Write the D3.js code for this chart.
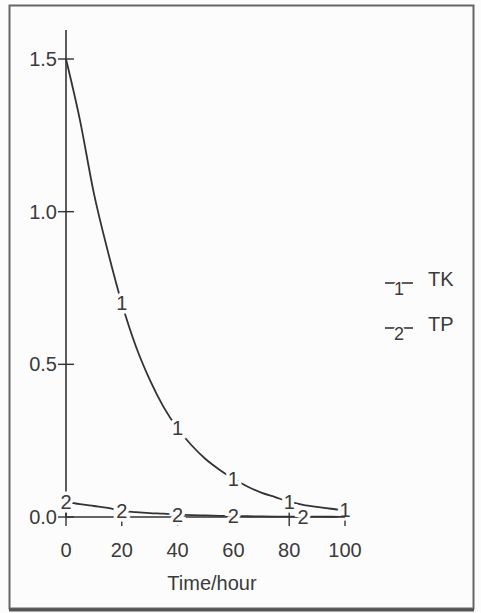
<!DOCTYPE html>
<html>
<head>
<meta charset="utf-8">
<script src="https://cdn.jsdelivr.net/npm/d3@7"></script>
<style>
  body { margin: 0; background: #fcfcfc; }
  text { font-family: "Liberation Sans", Arial, sans-serif; fill: #3a3a3a; }
</style>
</head>
<body>
<div id="chart"></div>
<script>
// time in hours
var hours = [0, 5, 10, 15, 20, 25, 30, 35, 40, 45, 50, 55, 60, 65, 70, 75, 80, 85, 90, 95, 100];
var tk = [1.50, 1.30, 1.06, 0.87, 0.70, 0.56, 0.45, 0.36, 0.29, 0.235, 0.19, 0.155, 0.125, 0.10, 0.08, 0.065, 0.05, 0.04, 0.033, 0.027, 0.022];
var tp = [0.05, 0.042, 0.036, 0.03, 0.02, 0.016, 0.013, 0.011, 0.008, 0.006, 0.005, 0.004, 0.003, 0.0025, 0.002, 0.0015, 0.001, 0.001, 0.001, 0.0008, 0.0005];
var seriesNames = ["TK", "TP"];
var labelHours = [[20, 40, 60, 80, 100], [0, 20, 40, 60, 85]];
var xTicks = [0, 20, 40, 60, 80, 100];
var yTicks = [0, 0.5, 1.0, 1.5];
var xTitle = "Time/hour";

function init() {
  var w = 481, h = 613;
  var svg = d3.select("#chart").append("svg")
      .attr("width", w)
      .attr("height", h);

  // outer frame
  svg.append("rect")
      .attr("x", 9.5).attr("y", 5.5)
      .attr("width", 464).attr("height", 603)
      .attr("fill", "none")
      .attr("stroke", "#666")
      .attr("stroke-width", 2);
  svg.append("line")
      .attr("x1", 9).attr("x2", 474)
      .attr("y1", 610).attr("y2", 610)
      .attr("stroke", "#555").attr("stroke-width", 3);

  var x = d3.scaleLinear().domain([0, 100]).range([66, 345]);
  var y = d3.scaleLinear().domain([0, 1.5]).range([517, 59]);

  var ink = "#333";

  // axes
  var g = svg.append("g");
  g.append("line")
      .attr("x1", x(0)).attr("x2", x(0))
      .attr("y1", y(0)).attr("y2", 30)
      .attr("stroke", ink).attr("stroke-width", 1.6);
  g.append("line")
      .attr("x1", x(0)).attr("x2", x(100))
      .attr("y1", y(0)).attr("y2", y(0))
      .attr("stroke", ink).attr("stroke-width", 1.6);

  // y ticks cross the axis
  g.selectAll(".yt").data(yTicks).enter().append("line")
      .attr("x1", x(0) - 8).attr("x2", x(0) + 8)
      .attr("y1", function(d) { return y(d); })
      .attr("y2", function(d) { return y(d); })
      .attr("stroke", ink).attr("stroke-width", 1.4);
  g.selectAll(".yl").data(yTicks).enter().append("text")
      .attr("x", x(0) - 9)
      .attr("y", function(d) { return y(d) + 7; })
      .attr("text-anchor", "end")
      .attr("font-size", 20)
      .text(function(d) { return d3.format(".1f")(d); });

  g.selectAll(".xt").data(xTicks).enter().append("line")
      .attr("x1", function(d) { return x(d); })
      .attr("x2", function(d) { return x(d); })
      .attr("y1", y(0) - 7).attr("y2", y(0) + 9)
      .attr("stroke", ink).attr("stroke-width", 1.4);
  g.selectAll(".xl").data(xTicks).enter().append("text")
      .attr("x", function(d) { return x(d); })
      .attr("y", 557)
      .attr("text-anchor", "middle")
      .attr("font-size", 20)
      .text(function(d) { return d; });

  svg.append("text")
      .attr("x", 212).attr("y", 590)
      .attr("text-anchor", "middle")
      .attr("font-size", 20)
      .text(xTitle);

  // curves
  var series = [tk, tp];
  var line = d3.line()
      .x(function(d, i) { return x(hours[i]); })
      .y(function(d) { return y(d); })
      .curve(d3.curveMonotoneX);

  series.forEach(function(vals, s) {
    svg.append("path")
        .attr("d", line(vals))
        .attr("fill", "none")
        .attr("stroke", ink)
        .attr("stroke-width", 1.8);

    // number markers along each line, with a paper-coloured gap
    var interp = d3.scaleLinear().domain(hours).range(vals);
    svg.selectAll(".m" + s).data(labelHours[s]).enter().append("text")
        .attr("x", function(d) { return x(d); })
        .attr("y", function(d) { return y(interp(d)) + 7; })
        .attr("text-anchor", "middle")
        .attr("font-size", 20)
        .attr("stroke", "#fcfcfc")
        .attr("stroke-width", 7)
        .attr("paint-order", "stroke")
        .text(s + 1);
  });

  // legend
  var leg = svg.selectAll(".leg").data(seriesNames).enter().append("g")
      .attr("transform", function(d, i) { return "translate(385," + (283 + i * 45) + ")"; });
  leg.append("line")
      .attr("x1", 0).attr("x2", 28)
      .attr("y1", 0).attr("y2", 0)
      .attr("stroke", ink).attr("stroke-width", 1.6);
  leg.append("text")
      .attr("x", 14).attr("y", 12)
      .attr("text-anchor", "middle")
      .attr("font-size", 18)
      .attr("stroke", "#fcfcfc")
      .attr("stroke-width", 3)
      .attr("paint-order", "stroke")
      .text(function(d, i) { return i + 1; });
  leg.append("text")
      .attr("x", 43).attr("y", 3)
      .attr("font-size", 20)
      .text(function(d) { return d; });
}
window.onload = init;
</script>
</body>
</html>
